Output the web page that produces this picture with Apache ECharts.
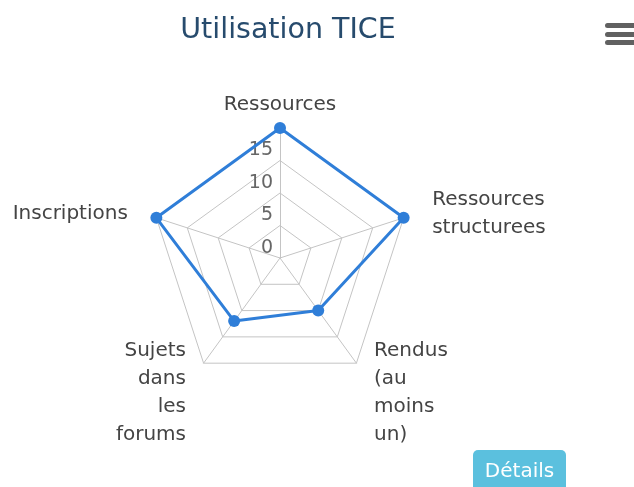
<!DOCTYPE html>
<html><head><meta charset="utf-8">
<script src="https://cdn.jsdelivr.net/npm/echarts@6/dist/echarts.min.js"></script>
<style>html,body{margin:0;padding:0;background:#fff}#c{width:634px;height:487px}</style>
</head><body><div id="c"></div>
<script>
const categories = ['Ressources', 'Ressources\nstructurees', 'Rendus\n(au\nmoins\nun)', 'Sujets\ndans\nles\nforums', 'Inscriptions'];
const values = [20, 20, 10, 12, 20];
const tickLabels = [0, 5, 10, 15];
const axisMax = 20;

// ECharts lays radar indicators counterclockwise; reorder to draw clockwise
const order = [0, 4, 3, 2, 1];
const font = '"DejaVu Sans", Verdana, sans-serif';
const chart = echarts.init(document.getElementById('c'));
chart.setOption({
  animation: false,
  title: { text: 'Utilisation TICE', left: 283, textAlign: 'center', top: 11,
    textStyle: { color: '#274b6d', fontSize: 28.5, fontWeight: 'normal', fontFamily: font } },
  radar: [{
    center: [280, 258], radius: 130, startAngle: 90, shape: 'polygon', splitNumber: 4,
    indicator: order.map(i => ({ name: categories[i], min: 0, max: axisMax })),
    nameGap: 30,
    axisName: { color: '#444', fontSize: 20, lineHeight: 28, fontFamily: font,
      formatter: (n) => n === categories[0] ? '' :
        '{p| }\n' + n.split('\n').map(l => '{t|' + l + '}').join('\n'),
      rich: {
        p: { fontSize: 4, lineHeight: 10, height: 10 },
        t: { color: '#444', fontSize: 20, lineHeight: 28, fontFamily: font }
      } },
    splitLine: { lineStyle: { color: '#c4c4c4', width: 1 } },
    splitArea: { show: false },
    axisLine: { lineStyle: { color: '#c4c4c4', width: 1 } },
    axisTick: { show: false },
    axisLabel: { show: false }
  }, {
    center: [280, 258], radius: 130, startAngle: 90, shape: 'polygon', splitNumber: 4,
    indicator: [{ name: categories[0], min: 0, max: axisMax }],
    nameGap: 9,
    axisName: { color: '#444', fontSize: 20, lineHeight: 28, fontFamily: font },
    splitLine: { show: false }, splitArea: { show: false },
    axisLine: { show: false }, axisTick: { show: false },
    axisLabel: { show: true, color: '#666', fontSize: 19, fontFamily: font, margin: 7,
      verticalAlign: 'bottom', lineHeight: 20,
      formatter: v => tickLabels.indexOf(v) >= 0 ? String(v) : '' }
  }],
  series: [{
    type: 'radar', radarIndex: 0,
    symbol: 'circle', symbolSize: 12,
    lineStyle: { color: '#2f7ed8', width: 3 },
    itemStyle: { color: '#2f7ed8' },
    data: [{ value: order.map(i => values[i]) }]
  }],
  graphic: [
    { type: 'rect', left: 605, top: 23, shape: { width: 31, height: 5, r: 2.5 }, style: { fill: '#616161' } },
    { type: 'rect', left: 605, top: 32, shape: { width: 31, height: 5, r: 2.5 }, style: { fill: '#616161' } },
    { type: 'rect', left: 605, top: 40, shape: { width: 31, height: 5, r: 2.5 }, style: { fill: '#616161' } },
    { type: 'group', left: 473, top: 450, children: [
      { type: 'rect', shape: { x: 0, y: 0, width: 93, height: 42, r: 5 }, style: { fill: '#5bc0de' } },
      { type: 'text', x: 46.5, y: 22, style: { text: 'Détails', fill: '#fff', fontSize: 20, fontFamily: font, align: 'center', verticalAlign: 'middle' } }
    ]}
  ]
});
</script></body></html>
